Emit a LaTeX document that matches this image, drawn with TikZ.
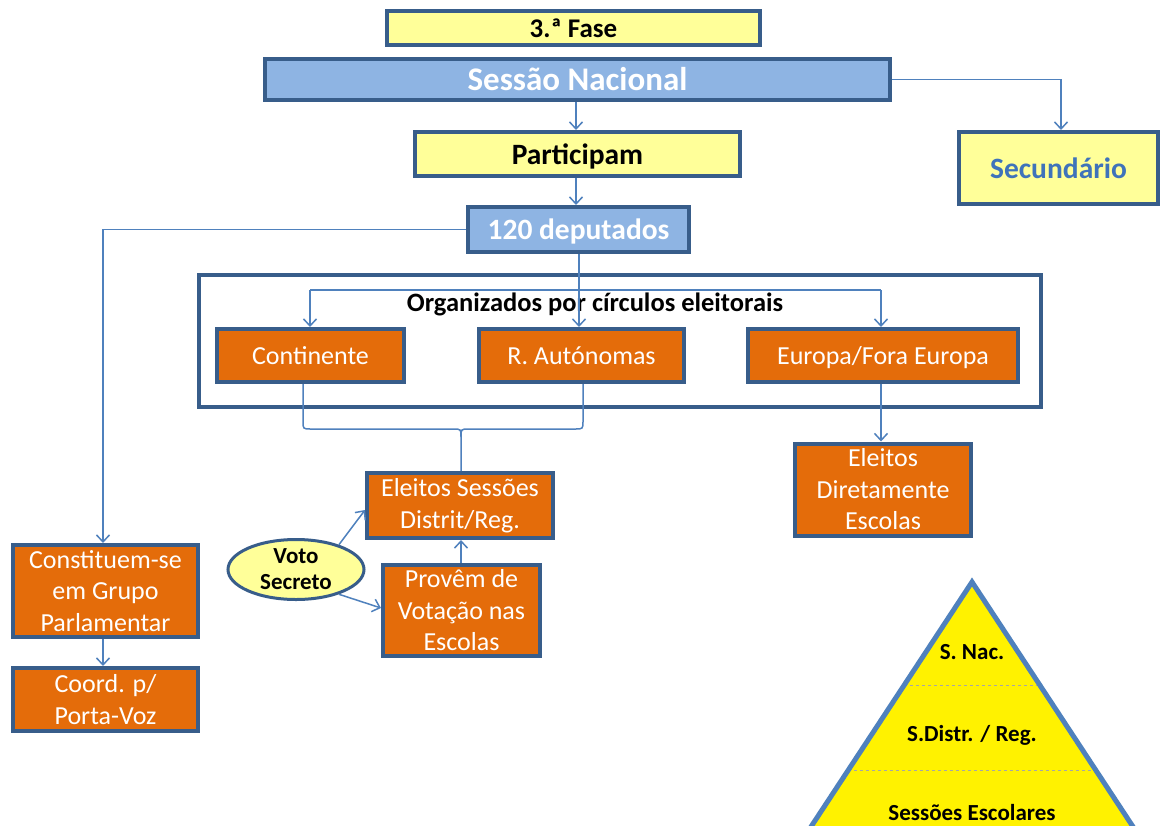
\documentclass[tikz,border=0pt]{standalone}
\usepackage{fontspec}
\setmainfont{Carlito}
\usetikzlibrary{arrows.meta,shapes.geometric}
\definecolor{bord}{HTML}{385D8A}
\definecolor{conncol}{HTML}{4F81BD}
\definecolor{lyel}{HTML}{FFFF99}
\definecolor{lblue}{HTML}{8EB4E3}
\definecolor{orng}{HTML}{E46C0A}
\definecolor{sectxt}{HTML}{3F73BA}
\definecolor{dashcol}{HTML}{A6A6A6}
\tikzset{
  box/.style={draw=bord, line width=4pt, rectangle, inner sep=0pt, align=center},
  sl/.style={text height=0.9*#1, text depth=0.22*#1},
  ybox/.style={box, fill=lyel, text=black},
  bbox/.style={box, fill=lblue, text=white},
  obox/.style={box, fill=orng, text=white, font=\fontsize{26}{31.5}\selectfont},
  conn/.style={draw=conncol, line width=1.5pt},
  arr/.style={conn, -{Straight Barb[length=7pt,width=13pt,line width=1.5pt]}},
}
\begin{document}
\begin{tikzpicture}[x=1pt,y=-1pt]
\clip (0,0) rectangle (1162,825);
\fill[white] (0,0) rectangle (1162,825);
% frame
\node[box, fill=white, minimum width=842pt, minimum height=132pt] (frame) at (620,341) {};
\node[sl=26.5pt, font=\bfseries\fontsize{26.5}{30}\selectfont] (org) at (595,302) {Organizados por círculos eleitorais};
% top boxes
\node[ybox, sl=27pt, minimum width=373pt, minimum height=34pt, font=\bfseries\fontsize{27}{30}\selectfont] (fase) at (573.5,28) {3.ª Fase};
\node[bbox, sl=33pt, minimum width=625pt, minimum height=41pt, font=\bfseries\fontsize{33}{36}\selectfont] (sessao) at (577.5,79.5) {Sessão Nacional};
\node[ybox, sl=29.5pt, minimum width=325pt, minimum height=44pt, font=\bfseries\fontsize{29.5}{32}\selectfont] (partic) at (577.5,154) {Participam};
\node[ybox, sl=29.5pt, minimum width=199pt, minimum height=72pt, text=sectxt, font=\bfseries\fontsize{29.5}{32}\selectfont] (secund) at (1058.5,168) {Secundário};
\node[bbox, sl=29.5pt, minimum width=221pt, minimum height=45pt, font=\bfseries\fontsize{29.5}{32}\selectfont] (ded) at (578.5,229.5) {120 deputados};
% orange boxes
\node[obox, sl=26pt, minimum width=187pt, minimum height=53pt] (cont) at (310.5,355.5) {Continente};
\node[obox, sl=26pt, minimum width=205pt, minimum height=53pt] (raut) at (581.5,355.5) {R. Autónomas};
\node[obox, sl=26pt, minimum width=270pt, minimum height=53pt] (europa) at (883,355.5) {Europa/Fora Europa};
\node[obox, minimum width=176pt, minimum height=92pt] (eldir) at (883,489.5) {Eleitos\\Diretamente\\Escolas};
\node[obox, minimum width=186pt, minimum height=65pt] (elses) at (460,505.5) {Eleitos Sessões\\Distrit/Reg.};
\node[obox, minimum width=157pt, minimum height=91pt] (provem) at (461.5,610.5) {Provêm de\\Votação nas\\Escolas};
\node[obox, minimum width=185pt, minimum height=92pt] (constit) at (105.5,591) {Constituem-se\\em Grupo\\Parlamentar};
\node[obox, minimum width=185pt, minimum height=63pt] (coord) at (105.5,699.5) {Coord. p/\\Porta-Voz};
\node[ellipse, draw=bord, line width=3pt, fill=lyel, minimum width=136pt, minimum height=60pt, inner sep=0pt, align=center, font=\bfseries\fontsize{23}{26}\selectfont] (voto) at (296,569.5) {Voto\\Secreto};
% connectors
\draw[arr] (sessao.south -| 576,0) -- (partic.north -| 576,0);
\draw[arr] (partic.south -| 576,0) -- (ded.north -| 576,0);
\draw[arr] (sessao.east) -| (secund.north -| 1061,0);
\draw[arr] (ded.west) -| (constit.north -| 103,0);
\draw[arr] (ded.south -| 579,0) -- (raut.north -| 579,0);
\coordinate (hl) at (310,290);
\coordinate (hr) at (881,290);
\draw[conn] (hl) -- (hr);
\draw[arr] (hl) -- (cont.north -| hl);
\draw[arr] (hr) -- (europa.north -| hr);
\draw[arr] (europa.south -| hr) -- (eldir.north -| hr);
\draw[arr] (constit.south -| 103,0) -- (coord.north -| 103,0);
\draw[arr] (provem.north -| 461,0) -- (elses.south -| 461,0);
\draw[arr] (voto.30) -- (elses.west |- 0,510);
\draw[arr] (voto.-30) -- (provem.west |- 0,608);
% brace
\coordinate (bt) at (461,437);
\draw[conn] (cont.south -| 303,0) -- (303,421) .. controls (303,429) .. (311,429) -- (453,429) .. controls (461,429) .. (bt) -- (elses.north -| bt);
\draw[conn] (raut.south -| 583,0) -- (583,421) .. controls (583,429) .. (575,429) -- (469,429) .. controls (461,429) .. (bt);
% pyramid
\coordinate (apex) at (972,582);
\coordinate (pl) at (799,845);
\coordinate (pr) at (1145,845);
\fill[yellow] (apex) -- (pl) -- (pr) -- cycle;
\draw[dashcol, dashed, line width=1pt] (904,685) -- (1040,685);
\draw[dashcol, dashed, line width=1pt] (848,770) -- (1096,770);
\draw[conncol, line width=5pt, line join=miter] (pl) -- (apex) -- (pr);
\node[font=\bfseries\fontsize{23}{26}\selectfont] (snac) at (972,652) {S. Nac.};
\node[font=\bfseries\fontsize{23}{26}\selectfont] (sdist) at (972,735) {S.Distr. / Reg.};
\node[font=\bfseries\fontsize{23}{26}\selectfont] (sesc) at (972,813) {Sessões Escolares};
\end{tikzpicture}
\end{document}
